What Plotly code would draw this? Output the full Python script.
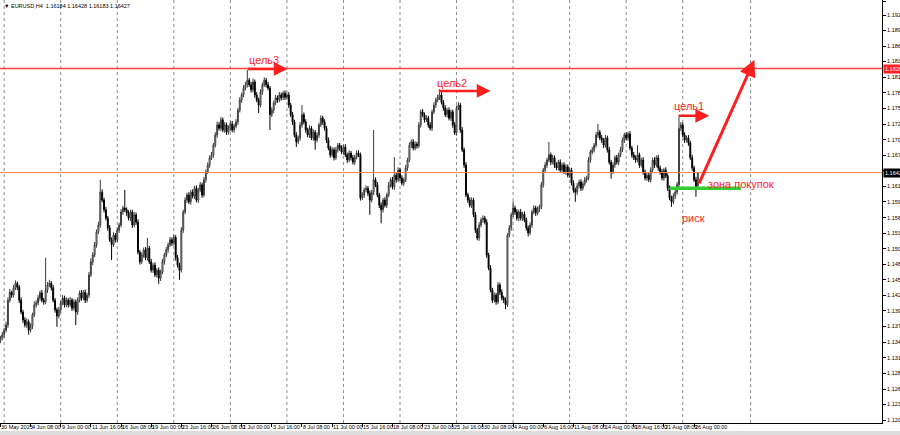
import plotly.graph_objects as go

# ---------------- DATA (EURUSD, H4) ----------------
OPEN = [
 1.1345, 1.1350, 1.1356, 1.1364, 1.1373, 1.1417, 1.1431, 1.1426, 1.1439, 1.1447,
 1.1440, 1.1417, 1.1396, 1.1382, 1.1373, 1.1379, 1.1364, 1.1371, 1.1391, 1.1409,
 1.1412, 1.1421, 1.1430, 1.1417, 1.1414, 1.1435, 1.1444, 1.1447, 1.1439, 1.1417,
 1.1400, 1.1389, 1.1400, 1.1412, 1.1421, 1.1409, 1.1417, 1.1409, 1.1417, 1.1403,
 1.1414, 1.1396, 1.1417, 1.1430, 1.1421, 1.1431, 1.1417, 1.1426, 1.1462, 1.1485,
 1.1497, 1.1515, 1.1538, 1.1550, 1.1608, 1.1594, 1.1577, 1.1562, 1.1545, 1.1524,
 1.1515, 1.1532, 1.1524, 1.1541, 1.1550, 1.1573, 1.1580, 1.1577, 1.1571, 1.1562,
 1.1573, 1.1550, 1.1568, 1.1555, 1.1502, 1.1485, 1.1497, 1.1506, 1.1492, 1.1509,
 1.1485, 1.1470, 1.1479, 1.1462, 1.1470, 1.1456, 1.1467, 1.1485, 1.1497, 1.1506,
 1.1515, 1.1524, 1.1518, 1.1528, 1.1492, 1.1479, 1.1470, 1.1541, 1.1573, 1.1594,
 1.1603, 1.1591, 1.1608, 1.1601, 1.1615, 1.1594, 1.1612, 1.1621, 1.1603, 1.1630,
 1.1644, 1.1656, 1.1669, 1.1674, 1.1691, 1.1709, 1.1727, 1.1721, 1.1736, 1.1718,
 1.1727, 1.1714, 1.1721, 1.1729, 1.1718, 1.1725, 1.1732, 1.1753, 1.1771, 1.1780,
 1.1792, 1.1798, 1.1806, 1.1798, 1.1789, 1.1803, 1.1780, 1.1771, 1.1762, 1.1785,
 1.1798, 1.1806, 1.1798, 1.1792, 1.1745, 1.1753, 1.1766, 1.1775, 1.1771, 1.1780,
 1.1775, 1.1783, 1.1776, 1.1780, 1.1762, 1.1745, 1.1732, 1.1709, 1.1697, 1.1704,
 1.1727, 1.1745, 1.1732, 1.1718, 1.1709, 1.1721, 1.1704, 1.1714, 1.1700, 1.1709,
 1.1727, 1.1739, 1.1732, 1.1721, 1.1700, 1.1686, 1.1674, 1.1683, 1.1669, 1.1683,
 1.1691, 1.1686, 1.1679, 1.1688, 1.1674, 1.1665, 1.1677, 1.1669, 1.1661, 1.1670,
 1.1677, 1.1674, 1.1598, 1.1603, 1.1612, 1.1615, 1.1606, 1.1594, 1.1608, 1.1630,
 1.1621, 1.1603, 1.1585, 1.1577, 1.1594, 1.1585, 1.1603, 1.1621, 1.1630, 1.1617,
 1.1638, 1.1630, 1.1647, 1.1633, 1.1624, 1.1630, 1.1651, 1.1665, 1.1691, 1.1697,
 1.1686, 1.1693, 1.1690, 1.1727, 1.1750, 1.1745, 1.1736, 1.1739, 1.1727, 1.1721,
 1.1750, 1.1762, 1.1771, 1.1776, 1.1780, 1.1767, 1.1757, 1.1745, 1.1753, 1.1739,
 1.1750, 1.1727, 1.1713, 1.1757, 1.1762, 1.1718, 1.1683, 1.1656, 1.1603, 1.1594,
 1.1585, 1.1594, 1.1568, 1.1541, 1.1527, 1.1550, 1.1559, 1.1562, 1.1555, 1.1497,
 1.1474, 1.1435, 1.1417, 1.1426, 1.1414, 1.1444, 1.1431, 1.1421, 1.1417, 1.1409,
 1.1532, 1.1545, 1.1568, 1.1580, 1.1573, 1.1562, 1.1573, 1.1562, 1.1569, 1.1559,
 1.1545, 1.1536, 1.1550, 1.1573, 1.1580, 1.1571, 1.1578, 1.1582, 1.1621, 1.1647,
 1.1656, 1.1665, 1.1674, 1.1661, 1.1669, 1.1656, 1.1651, 1.1661, 1.1647, 1.1656,
 1.1644, 1.1653, 1.1638, 1.1647, 1.1624, 1.1612, 1.1608, 1.1619, 1.1626, 1.1615,
 1.1623, 1.1630, 1.1633, 1.1665, 1.1679, 1.1683, 1.1691, 1.1709, 1.1714, 1.1704,
 1.1700, 1.1691, 1.1704, 1.1683, 1.1661, 1.1644, 1.1656, 1.1669, 1.1661, 1.1674,
 1.1683, 1.1700, 1.1709, 1.1704, 1.1711, 1.1686, 1.1674, 1.1669, 1.1665, 1.1674,
 1.1656, 1.1665, 1.1644, 1.1633, 1.1638, 1.1630, 1.1647, 1.1665, 1.1656, 1.1669,
 1.1651, 1.1644, 1.1633, 1.1647, 1.1637, 1.1615, 1.1598, 1.1591, 1.1601, 1.1608,
 1.1621, 1.1721, 1.1727, 1.1709, 1.1700, 1.1704, 1.1695, 1.1669, 1.1651, 1.1630,
 1.16184]

HIGH = [
 1.1354, 1.1361, 1.1368, 1.1379, 1.1422, 1.1437, 1.1434, 1.1444, 1.1452, 1.1450,
 1.1444, 1.1422, 1.1400, 1.1387, 1.1385, 1.1383, 1.1376, 1.1395, 1.1415, 1.1417,
 1.1426, 1.1434, 1.1435, 1.1421, 1.1492, 1.1449, 1.1453, 1.1451, 1.1444, 1.1421,
 1.1404, 1.1405, 1.1416, 1.1426, 1.1425, 1.1422, 1.1421, 1.1423, 1.1421, 1.1419,
 1.1418, 1.1422, 1.1434, 1.1435, 1.1435, 1.1436, 1.1430, 1.1467, 1.1491, 1.1502,
 1.1520, 1.1542, 1.1556, 1.1630, 1.1613, 1.1598, 1.1582, 1.1566, 1.1550, 1.1528,
 1.1537, 1.1536, 1.1546, 1.1554, 1.1578, 1.1584, 1.1612, 1.1581, 1.1576, 1.1577,
 1.1577, 1.1573, 1.1572, 1.1560, 1.1506, 1.1502, 1.1510, 1.1511, 1.1527, 1.1513,
 1.1490, 1.1483, 1.1484, 1.1474, 1.1475, 1.1471, 1.1490, 1.1501, 1.1511, 1.1519,
 1.1529, 1.1528, 1.1533, 1.1532, 1.1497, 1.1483, 1.1546, 1.1577, 1.1599, 1.1607,
 1.1608, 1.1612, 1.1613, 1.1619, 1.1620, 1.1616, 1.1626, 1.1625, 1.1635, 1.1648,
 1.1661, 1.1673, 1.1679, 1.1695, 1.1714, 1.1733, 1.1732, 1.1741, 1.1740, 1.1732,
 1.1731, 1.1726, 1.1733, 1.1734, 1.1729, 1.1737, 1.1757, 1.1776, 1.1784, 1.1797,
 1.1803, 1.1824, 1.1810, 1.1803, 1.1809, 1.1807, 1.1785, 1.1775, 1.1790, 1.1802,
 1.1811, 1.1810, 1.1803, 1.1796, 1.1758, 1.1770, 1.1780, 1.1779, 1.1785, 1.1784,
 1.1787, 1.1788, 1.1784, 1.1785, 1.1766, 1.1750, 1.1736, 1.1714, 1.1708, 1.1732,
 1.1762, 1.1749, 1.1737, 1.1722, 1.1726, 1.1725, 1.1719, 1.1718, 1.1714, 1.1731,
 1.1744, 1.1743, 1.1737, 1.1725, 1.1705, 1.1690, 1.1688, 1.1687, 1.1688, 1.1695,
 1.1695, 1.1691, 1.1692, 1.1693, 1.1678, 1.1682, 1.1681, 1.1674, 1.1674, 1.1682,
 1.1682, 1.1678, 1.1608, 1.1616, 1.1620, 1.1619, 1.1611, 1.1612, 1.1718, 1.1634,
 1.1626, 1.1607, 1.1590, 1.1598, 1.1599, 1.1607, 1.1626, 1.1634, 1.1635, 1.1670,
 1.1642, 1.1652, 1.1651, 1.1638, 1.1634, 1.1656, 1.1669, 1.1696, 1.1701, 1.1702,
 1.1698, 1.1697, 1.1732, 1.1754, 1.1755, 1.1749, 1.1744, 1.1743, 1.1732, 1.1754,
 1.1767, 1.1775, 1.1781, 1.1790, 1.1785, 1.1771, 1.1762, 1.1757, 1.1758, 1.1754,
 1.1754, 1.1732, 1.1761, 1.1767, 1.1766, 1.1723, 1.1687, 1.1661, 1.1607, 1.1599,
 1.1599, 1.1598, 1.1573, 1.1545, 1.1555, 1.1563, 1.1567, 1.1566, 1.1560, 1.1501,
 1.1479, 1.1439, 1.1431, 1.1430, 1.1449, 1.1448, 1.1436, 1.1425, 1.1422, 1.1536,
 1.1550, 1.1572, 1.1592, 1.1584, 1.1578, 1.1577, 1.1578, 1.1573, 1.1574, 1.1563,
 1.1549, 1.1555, 1.1577, 1.1585, 1.1584, 1.1583, 1.1586, 1.1626, 1.1651, 1.1661,
 1.1669, 1.1697, 1.1678, 1.1674, 1.1673, 1.1661, 1.1665, 1.1666, 1.1660, 1.1661,
 1.1658, 1.1657, 1.1652, 1.1651, 1.1629, 1.1616, 1.1624, 1.1630, 1.1631, 1.1627,
 1.1635, 1.1637, 1.1670, 1.1683, 1.1688, 1.1695, 1.1714, 1.1729, 1.1718, 1.1709,
 1.1704, 1.1709, 1.1708, 1.1688, 1.1665, 1.1661, 1.1673, 1.1674, 1.1678, 1.1688,
 1.1705, 1.1713, 1.1714, 1.1715, 1.1716, 1.1690, 1.1679, 1.1673, 1.1691, 1.1678,
 1.1669, 1.1670, 1.1648, 1.1643, 1.1642, 1.1652, 1.1669, 1.1670, 1.1673, 1.1674,
 1.1655, 1.1649, 1.1651, 1.1652, 1.1641, 1.1620, 1.1602, 1.1606, 1.1612, 1.1626,
 1.1741, 1.1732, 1.1731, 1.1714, 1.1708, 1.1709, 1.1699, 1.1674, 1.1655, 1.1635,
 1.16428]

LOW = [
 1.1341, 1.1346, 1.1351, 1.1360, 1.1368, 1.1413, 1.1421, 1.1422, 1.1435, 1.1435,
 1.1412, 1.1392, 1.1377, 1.1369, 1.1368, 1.1356, 1.1360, 1.1366, 1.1387, 1.1404,
 1.1408, 1.1416, 1.1413, 1.1409, 1.1410, 1.1430, 1.1440, 1.1434, 1.1413, 1.1395,
 1.1370, 1.1385, 1.1395, 1.1408, 1.1404, 1.1405, 1.1404, 1.1405, 1.1398, 1.1399,
 1.1373, 1.1391, 1.1413, 1.1416, 1.1417, 1.1412, 1.1413, 1.1421, 1.1458, 1.1479,
 1.1493, 1.1510, 1.1534, 1.1545, 1.1590, 1.1572, 1.1558, 1.1540, 1.1520, 1.1488,
 1.1511, 1.1519, 1.1520, 1.1536, 1.1546, 1.1568, 1.1573, 1.1566, 1.1558, 1.1557,
 1.1545, 1.1546, 1.1550, 1.1498, 1.1480, 1.1481, 1.1492, 1.1488, 1.1487, 1.1481,
 1.1466, 1.1465, 1.1458, 1.1457, 1.1446, 1.1451, 1.1463, 1.1480, 1.1493, 1.1501,
 1.1511, 1.1513, 1.1514, 1.1487, 1.1475, 1.1453, 1.1466, 1.1536, 1.1569, 1.1589,
 1.1587, 1.1586, 1.1597, 1.1596, 1.1590, 1.1589, 1.1608, 1.1598, 1.1599, 1.1625,
 1.1640, 1.1651, 1.1665, 1.1669, 1.1687, 1.1704, 1.1717, 1.1716, 1.1714, 1.1713,
 1.1709, 1.1710, 1.1716, 1.1714, 1.1713, 1.1721, 1.1727, 1.1749, 1.1766, 1.1776,
 1.1788, 1.1793, 1.1794, 1.1784, 1.1785, 1.1775, 1.1767, 1.1748, 1.1758, 1.1780,
 1.1794, 1.1793, 1.1788, 1.1718, 1.1741, 1.1748, 1.1762, 1.1766, 1.1767, 1.1770,
 1.1771, 1.1771, 1.1772, 1.1757, 1.1741, 1.1727, 1.1705, 1.1688, 1.1693, 1.1699,
 1.1722, 1.1728, 1.1713, 1.1705, 1.1704, 1.1700, 1.1699, 1.1683, 1.1696, 1.1704,
 1.1723, 1.1727, 1.1717, 1.1695, 1.1682, 1.1669, 1.1670, 1.1664, 1.1665, 1.1678,
 1.1681, 1.1675, 1.1674, 1.1670, 1.1660, 1.1661, 1.1664, 1.1657, 1.1656, 1.1666,
 1.1670, 1.1593, 1.1594, 1.1598, 1.1608, 1.1601, 1.1568, 1.1590, 1.1603, 1.1617,
 1.1599, 1.1580, 1.1553, 1.1572, 1.1581, 1.1580, 1.1599, 1.1616, 1.1613, 1.1612,
 1.1625, 1.1626, 1.1628, 1.1620, 1.1619, 1.1626, 1.1646, 1.1661, 1.1686, 1.1682,
 1.1682, 1.1685, 1.1686, 1.1722, 1.1741, 1.1731, 1.1732, 1.1722, 1.1717, 1.1716,
 1.1746, 1.1757, 1.1767, 1.1771, 1.1763, 1.1752, 1.1741, 1.1740, 1.1735, 1.1734,
 1.1722, 1.1709, 1.1708, 1.1753, 1.1713, 1.1679, 1.1651, 1.1599, 1.1589, 1.1581,
 1.1580, 1.1564, 1.1536, 1.1523, 1.1522, 1.1546, 1.1554, 1.1551, 1.1492, 1.1470,
 1.1431, 1.1412, 1.1413, 1.1409, 1.1410, 1.1426, 1.1417, 1.1412, 1.1401, 1.1405,
 1.1528, 1.1540, 1.1564, 1.1568, 1.1558, 1.1557, 1.1558, 1.1557, 1.1555, 1.1540,
 1.1530, 1.1532, 1.1545, 1.1569, 1.1566, 1.1567, 1.1573, 1.1578, 1.1616, 1.1643,
 1.1651, 1.1661, 1.1656, 1.1657, 1.1651, 1.1647, 1.1646, 1.1643, 1.1642, 1.1640,
 1.1639, 1.1634, 1.1633, 1.1620, 1.1607, 1.1591, 1.1603, 1.1615, 1.1610, 1.1611,
 1.1619, 1.1625, 1.1629, 1.1660, 1.1675, 1.1678, 1.1687, 1.1704, 1.1700, 1.1695,
 1.1686, 1.1687, 1.1678, 1.1657, 1.1632, 1.1640, 1.1651, 1.1657, 1.1656, 1.1670,
 1.1679, 1.1695, 1.1700, 1.1699, 1.1682, 1.1669, 1.1665, 1.1660, 1.1661, 1.1651,
 1.1652, 1.1639, 1.1629, 1.1628, 1.1626, 1.1625, 1.1643, 1.1651, 1.1652, 1.1646,
 1.1639, 1.1629, 1.1628, 1.1633, 1.1610, 1.1594, 1.1582, 1.1587, 1.1596, 1.1604,
 1.1617, 1.1716, 1.1705, 1.1695, 1.1696, 1.1690, 1.1665, 1.1646, 1.1626, 1.1600,
 1.16183]

CLOSE = [
 1.1350, 1.1356, 1.1364, 1.1373, 1.1417, 1.1431, 1.1426, 1.1439, 1.1447, 1.1440,
 1.1417, 1.1396, 1.1382, 1.1373, 1.1379, 1.1364, 1.1371, 1.1391, 1.1409, 1.1412,
 1.1421, 1.1430, 1.1417, 1.1414, 1.1435, 1.1444, 1.1447, 1.1439, 1.1417, 1.1400,
 1.1389, 1.1400, 1.1412, 1.1421, 1.1409, 1.1417, 1.1409, 1.1417, 1.1403, 1.1414,
 1.1396, 1.1417, 1.1430, 1.1421, 1.1431, 1.1417, 1.1426, 1.1462, 1.1485, 1.1497,
 1.1515, 1.1538, 1.1550, 1.1608, 1.1594, 1.1577, 1.1562, 1.1545, 1.1524, 1.1515,
 1.1532, 1.1524, 1.1541, 1.1550, 1.1573, 1.1580, 1.1577, 1.1571, 1.1562, 1.1573,
 1.1550, 1.1568, 1.1555, 1.1502, 1.1485, 1.1497, 1.1506, 1.1492, 1.1509, 1.1485,
 1.1470, 1.1479, 1.1462, 1.1470, 1.1456, 1.1467, 1.1485, 1.1497, 1.1506, 1.1515,
 1.1524, 1.1518, 1.1528, 1.1492, 1.1479, 1.1470, 1.1541, 1.1573, 1.1594, 1.1603,
 1.1591, 1.1608, 1.1601, 1.1615, 1.1594, 1.1612, 1.1621, 1.1603, 1.1630, 1.1644,
 1.1656, 1.1669, 1.1674, 1.1691, 1.1709, 1.1727, 1.1721, 1.1736, 1.1718, 1.1727,
 1.1714, 1.1721, 1.1729, 1.1718, 1.1725, 1.1732, 1.1753, 1.1771, 1.1780, 1.1792,
 1.1798, 1.1806, 1.1798, 1.1789, 1.1803, 1.1780, 1.1771, 1.1762, 1.1785, 1.1798,
 1.1806, 1.1798, 1.1792, 1.1745, 1.1753, 1.1766, 1.1775, 1.1771, 1.1780, 1.1775,
 1.1783, 1.1776, 1.1780, 1.1762, 1.1745, 1.1732, 1.1709, 1.1697, 1.1704, 1.1727,
 1.1745, 1.1732, 1.1718, 1.1709, 1.1721, 1.1704, 1.1714, 1.1700, 1.1709, 1.1727,
 1.1739, 1.1732, 1.1721, 1.1700, 1.1686, 1.1674, 1.1683, 1.1669, 1.1683, 1.1691,
 1.1686, 1.1679, 1.1688, 1.1674, 1.1665, 1.1677, 1.1669, 1.1661, 1.1670, 1.1677,
 1.1674, 1.1598, 1.1603, 1.1612, 1.1615, 1.1606, 1.1594, 1.1608, 1.1630, 1.1621,
 1.1603, 1.1585, 1.1577, 1.1594, 1.1585, 1.1603, 1.1621, 1.1630, 1.1617, 1.1638,
 1.1630, 1.1647, 1.1633, 1.1624, 1.1630, 1.1651, 1.1665, 1.1691, 1.1697, 1.1686,
 1.1693, 1.1690, 1.1727, 1.1750, 1.1745, 1.1736, 1.1739, 1.1727, 1.1721, 1.1750,
 1.1762, 1.1771, 1.1776, 1.1780, 1.1767, 1.1757, 1.1745, 1.1753, 1.1739, 1.1750,
 1.1727, 1.1713, 1.1757, 1.1762, 1.1718, 1.1683, 1.1656, 1.1603, 1.1594, 1.1585,
 1.1594, 1.1568, 1.1541, 1.1527, 1.1550, 1.1559, 1.1562, 1.1555, 1.1497, 1.1474,
 1.1435, 1.1417, 1.1426, 1.1414, 1.1444, 1.1431, 1.1421, 1.1417, 1.1409, 1.1532,
 1.1545, 1.1568, 1.1580, 1.1573, 1.1562, 1.1573, 1.1562, 1.1569, 1.1559, 1.1545,
 1.1536, 1.1550, 1.1573, 1.1580, 1.1571, 1.1578, 1.1582, 1.1621, 1.1647, 1.1656,
 1.1665, 1.1674, 1.1661, 1.1669, 1.1656, 1.1651, 1.1661, 1.1647, 1.1656, 1.1644,
 1.1653, 1.1638, 1.1647, 1.1624, 1.1612, 1.1608, 1.1619, 1.1626, 1.1615, 1.1623,
 1.1630, 1.1633, 1.1665, 1.1679, 1.1683, 1.1691, 1.1709, 1.1714, 1.1704, 1.1700,
 1.1691, 1.1704, 1.1683, 1.1661, 1.1644, 1.1656, 1.1669, 1.1661, 1.1674, 1.1683,
 1.1700, 1.1709, 1.1704, 1.1711, 1.1686, 1.1674, 1.1669, 1.1665, 1.1674, 1.1656,
 1.1665, 1.1644, 1.1633, 1.1638, 1.1630, 1.1647, 1.1665, 1.1656, 1.1669, 1.1651,
 1.1644, 1.1633, 1.1647, 1.1637, 1.1615, 1.1598, 1.1591, 1.1601, 1.1608, 1.1621,
 1.1721, 1.1727, 1.1709, 1.1700, 1.1704, 1.1695, 1.1669, 1.1651, 1.1630, 1.1618,
 1.16427]

# time axis (bar index -> label)
TIME_TICK_POS = [0, 16, 32, 48, 64, 80, 96, 112, 128, 144, 160, 176, 192, 208,
                 224, 240, 256, 272, 288, 304, 320, 336, 352, 368]
TIME_TICK_TEXT = ["30 May 2025", "4 Jun 08:00", "9 Jun 00:00", "11 Jun 16:00",
                  "16 Jun 08:00", "19 Jun 00:00", "23 Jun 16:00", "26 Jun 08:00",
                  "1 Jul 00:00", "3 Jul 16:00", "8 Jul 08:00", "11 Jul 00:00",
                  "15 Jul 16:00", "18 Jul 08:00", "23 Jul 00:00", "25 Jul 16:00",
                  "30 Jul 08:00", "4 Aug 00:00", "6 Aug 16:00", "11 Aug 08:00",
                  "14 Aug 00:00", "18 Aug 16:00", "21 Aug 08:00", "26 Aug 00:00"]
WEEK_GRID_POS = [2, 32, 62, 92, 122, 152, 182, 212, 242, 272, 302, 332, 362, 398]

# price axis
PRICE_TICKS = [1.12050, 1.12325, 1.12600, 1.12875, 1.13150, 1.13425, 1.13705,
               1.13980, 1.14255, 1.14530, 1.14805, 1.15080, 1.15355, 1.15630,
               1.15910, 1.16185, 1.16460, 1.16735, 1.17010, 1.17285, 1.17560,
               1.17835, 1.18115, 1.18390, 1.18660, 1.18940, 1.19210, 1.19460]
PRICE_RANGE = [1.11999, 1.19478]
BAR_RANGE = [-0.2, 467.7]

# horizontal levels
RED_LEVEL = 1.18265
ORANGE_LEVEL = 1.16427

# drawn objects (bar index, price)
TARGET_TEXT = ["цель3", "цель2", "цель1"]
TARGET_TEXT_X = [140.0, 239.8, 365.5]
TARGET_TEXT_Y = [1.1841, 1.1801, 1.1760]
TARGET_ARROW_X0 = [130.5, 231.8, 359.0]
TARGET_ARROW_X1 = [152.3, 260.0, 376.0]
TARGET_ARROW_Y = [1.1826, 1.1787, 1.1743]
BUY_ZONE_X = [355.0, 392.8]
BUY_ZONE_Y = 1.1615
BUY_ZONE_TEXT = "зона покупок"
BUY_ZONE_TEXT_POS = (374.5, 1.1622)
RISK_TEXT = "риск"
RISK_TEXT_POS = (367.5, 1.1562)
BIG_ARROW_TAIL = (370.3, 1.1621)
BIG_ARROW_HEAD = (400.0, 1.1842)

HEADER = "▼ EURUSD,H4  1.16184 1.16428 1.16183 1.16427"

RED = "#FF1E1E"
FONT = "Liberation Sans"

# ---------------- FIGURE ----------------
fig = go.Figure(go.Candlestick(
    x=list(range(len(CLOSE))), open=OPEN, high=HIGH, low=LOW, close=CLOSE,
    increasing=dict(line=dict(color="#3a3a3a", width=1), fillcolor="white"),
    decreasing=dict(line=dict(color="black", width=1), fillcolor="black"),
    whiskerwidth=0, hoverinfo="skip"))

fig.update_layout(
    width=900, height=435,
    margin=dict(l=0, r=18, t=0, b=12),
    paper_bgcolor="white", plot_bgcolor="white", showlegend=False,
    font=dict(family=FONT, size=6, color="black"),
    xaxis=dict(range=BAR_RANGE, rangeslider=dict(visible=False), showgrid=False,
               zeroline=False, showline=True, linecolor="black", linewidth=1,
               ticks="outside", ticklen=3, tickcolor="black", tickwidth=1,
               tickvals=TIME_TICK_POS, showticklabels=False, automargin=False),
    yaxis=dict(range=PRICE_RANGE, side="right", showgrid=False, zeroline=False,
               showline=True, linecolor="black", linewidth=1, ticks="outside",
               ticklen=3, tickcolor="black", tickwidth=1,
               tickvals=PRICE_TICKS, ticktext=[f"{v:.5f}" for v in PRICE_TICKS],
               tickfont=dict(size=5.5, family=FONT, color="black"), automargin=False),
)

# weekly dotted grid
for g in WEEK_GRID_POS:
    fig.add_shape(type="line", xref="x", yref="paper", x0=g, x1=g, y0=0, y1=1,
                  line=dict(color="#8a8a8a", width=1, dash="dot"), layer="below")

# horizontal levels
fig.add_shape(type="line", xref="paper", yref="y", x0=0, x1=1, y0=RED_LEVEL, y1=RED_LEVEL,
              line=dict(color="#FF4040", width=1.5))
fig.add_shape(type="line", xref="paper", yref="y", x0=0, x1=1, y0=ORANGE_LEVEL, y1=ORANGE_LEVEL,
              line=dict(color="#FF7F50", width=1))

# level labels on the price scale
for lvl, bg in [(RED_LEVEL, "#FF2020"), (ORANGE_LEVEL, "black")]:
    fig.add_annotation(x=1, xref="paper", y=lvl, yref="y", xanchor="left", yanchor="middle",
                       text=f"{lvl:.5f}", showarrow=False, bgcolor=bg, borderpad=1,
                       font=dict(size=5.5, color="white", family=FONT), xshift=1)

# time labels (left aligned at tick)
for p, t in zip(TIME_TICK_POS, TIME_TICK_TEXT):
    fig.add_annotation(x=p, xref="x", y=0, yref="paper", xanchor="left", yanchor="top",
                       text=t, showarrow=False, font=dict(size=5.5, family=FONT, color="black"),
                       xshift=0, yshift=0, borderpad=0)

# buy zone line
fig.add_shape(type="line", xref="x", yref="y", x0=BUY_ZONE_X[0], x1=BUY_ZONE_X[1],
              y0=BUY_ZONE_Y, y1=BUY_ZONE_Y, line=dict(color="#33CC33", width=3.5))

# target arrows and labels
for t, tx, ty, x0, x1, ay in zip(TARGET_TEXT, TARGET_TEXT_X, TARGET_TEXT_Y,
                                 TARGET_ARROW_X0, TARGET_ARROW_X1, TARGET_ARROW_Y):
    fig.add_annotation(x=x1, y=ay, ax=x0, ay=ay, xref="x", yref="y", axref="x", ayref="y",
                       text="", showarrow=True, arrowhead=2, arrowsize=1.1, arrowwidth=2.5,
                       arrowcolor=RED, standoff=0)
    fig.add_annotation(x=tx, y=ty, xref="x", yref="y", text=t, showarrow=False,
                       font=dict(size=11, color=RED, family=FONT))

# big arrow
fig.add_annotation(x=BIG_ARROW_HEAD[0], y=BIG_ARROW_HEAD[1], ax=BIG_ARROW_TAIL[0], ay=BIG_ARROW_TAIL[1],
                   xref="x", yref="y", axref="x", ayref="y", text="", showarrow=True,
                   arrowhead=2, arrowsize=1.1, arrowwidth=3, arrowcolor=RED, standoff=0)

fig.add_annotation(x=BUY_ZONE_TEXT_POS[0], y=BUY_ZONE_TEXT_POS[1], xref="x", yref="y",
                   text=BUY_ZONE_TEXT, showarrow=False, xanchor="left",
                   font=dict(size=11, color=RED, family=FONT))
fig.add_annotation(x=RISK_TEXT_POS[0], y=RISK_TEXT_POS[1], xref="x", yref="y",
                   text=RISK_TEXT, showarrow=False,
                   font=dict(size=11, color=RED, family=FONT))

# header
fig.add_annotation(x=0, y=1, xref="paper", yref="paper", xanchor="left", yanchor="top",
                   text=HEADER, showarrow=False, font=dict(size=5.5, family=FONT, color="black"),
                   xshift=2, yshift=-1)

# bottom tab strip
fig.add_shape(type="rect", xref="paper", yref="paper", x0=0, x1=1.0205, y0=-0.0285, y1=-0.019,
              fillcolor="#DCDCDC", line=dict(width=0))

fig.write_html("out.html", config={"displayModeBar": False},
               post_script="document.body.style.margin='0';document.body.style.overflow='hidden';")
